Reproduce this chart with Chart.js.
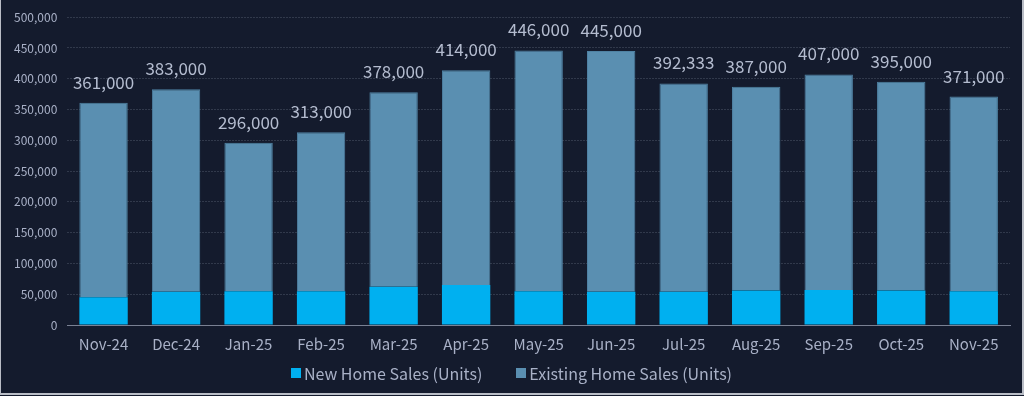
<!DOCTYPE html>
<html lang="en">
<head>
    <meta charset="UTF-8">
    <title>Home Sales</title>
    <script src="https://cdn.jsdelivr.net/npm/chart.js"></script>
    <style>
        html, body {
            margin: 0;
            padding: 0;
            background: #141b2d;
        }
        #wrap {
            position: relative;
            width: 1021px;
            height: 393px;
            border-left: 1px solid #b9bdc6;
            border-right: 2px solid #b9bdc6;
            border-bottom: 2px solid #b9bdc6;
            background: #141b2d;
            font-family: "Noto Sans CJK JP", "Noto Sans", sans-serif;
        }
        #chartBox {
            position: absolute;
            left: 0;
            top: 0;
            width: 1021px;
            height: 365px;
        }
        /* custom legend so the spacing matches */
        #legend {
            position: absolute;
            left: 0;
            right: 0;
            top: 362px;
            display: flex;
            justify-content: center;
            gap: 34px;
            color: #a9b1c7;
            font-size: 16px;
            line-height: 22px;
        }
        #legend span.item {
            display: flex;
            align-items: center;
        }
        #legend span.box {
            display: inline-block;
            width: 10px;
            height: 10px;
            margin-right: 3px;
        }
    </style>
</head>
<body>
<div id="wrap">
    <div id="chartBox">
        <canvas id="salesChart"></canvas>
    </div>
    <div id="legend"></div>
</div>
<script>
    // months on the x axis
    const months = ['Nov-24', 'Dec-24', 'Jan-25', 'Feb-25', 'Mar-25', 'Apr-25', 'May-25',
                    'Jun-25', 'Jul-25', 'Aug-25', 'Sep-25', 'Oct-25', 'Nov-25'];
    // total sales shown above each bar
    const totalSales = [361000, 383000, 296000, 313000, 378000, 414000, 446000,
                        445000, 392333, 387000, 407000, 395000, 371000];
    // new home sales (bottom part)
    const newSales = [45000, 54000, 55000, 55000, 62000, 65000, 55000,
                      54000, 54000, 56000, 57000, 56000, 55000];
    // existing = total - new
    const existingSales = totalSales.map((t, i) => t - newSales[i]);

    const textColor = '#a9b1c7';
    const fontFamily = '"Noto Sans CJK JP", "Noto Sans", sans-serif';

    // draws the total above every stack
    const totalLabels = {
        id: 'totalLabels',
        afterDatasetsDraw(chart) {
            const ctx = chart.ctx;
            const top = chart.getDatasetMeta(1);
            ctx.save();
            ctx.fillStyle = '#b4bccf';
            ctx.font = '17px ' + fontFamily;
            ctx.textAlign = 'center';
            ctx.textBaseline = 'alphabetic';
            top.data.forEach((bar, i) => {
                ctx.fillText(totalSales[i].toLocaleString('en-US'), bar.x, bar.y - 14);
            });
            ctx.restore();
        }
    };

    const ctx = document.getElementById('salesChart').getContext('2d');
    const salesChart = new Chart(ctx, {
        type: 'bar',
        data: {
            labels: months,
            datasets: [{
                label: 'New Home Sales (Units)',
                data: newSales,
                backgroundColor: '#00b0f0',
                borderWidth: 0,
                categoryPercentage: 0.667,
                barPercentage: 1.0
            }, {
                label: 'Existing Home Sales (Units)',
                data: existingSales,
                backgroundColor: '#5a8fb1',
                borderColor: '#4f82a3',
                borderWidth: 1,
                categoryPercentage: 0.667,
                barPercentage: 1.0
            }]
        },
        options: {
            responsive: true,
            maintainAspectRatio: false,
            animation: false,
            layout: {
                padding: { left: 3, right: 12, top: 2, bottom: 10 }
            },
            plugins: {
                legend: { display: false },
                tooltip: { enabled: false }
            },
            scales: {
                x: {
                    stacked: true,
                    grid: { display: false },
                    border: { color: '#7a8193', width: 1 },
                    ticks: {
                        color: textColor,
                        font: { size: 15, family: fontFamily },
                        padding: 2
                    }
                },
                y: {
                    stacked: true,
                    min: 0,
                    max: 500000,
                    border: { display: false, dash: [2, 1] },
                    grid: {
                        color: 'rgba(120, 128, 145, 0.3)',
                        drawTicks: false,
                        lineWidth: 1
                    },
                    ticks: {
                        stepSize: 50000,
                        color: textColor,
                        padding: 10,
                        font: { size: 12, family: fontFamily },
                        callback: v => v.toLocaleString('en-US')
                    }
                }
            }
        },
        plugins: [totalLabels]
    });

    // build the legend from the datasets
    const legend = document.getElementById('legend');
    salesChart.data.datasets.forEach(ds => {
        const item = document.createElement('span');
        item.className = 'item';
        const box = document.createElement('span');
        box.className = 'box';
        box.style.background = ds.backgroundColor;
        item.appendChild(box);
        item.appendChild(document.createTextNode(ds.label));
        legend.appendChild(item);
    });
</script>
</body>
</html>
